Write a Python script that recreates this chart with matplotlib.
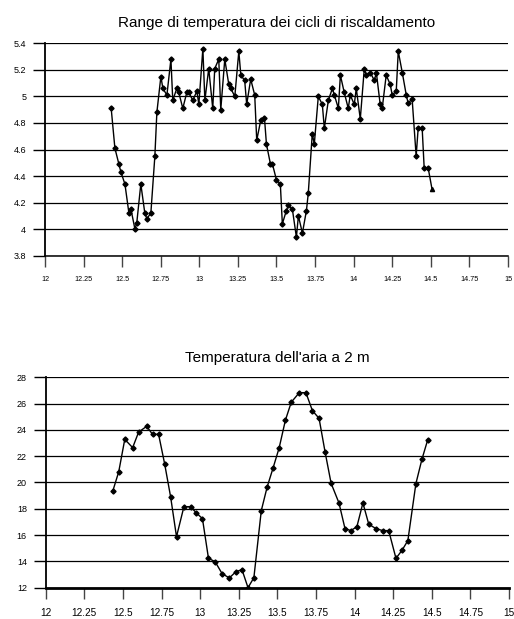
import matplotlib.pyplot as plt

plt.rcParams['font.family'] = ['Liberation Sans', 'DejaVu Sans']

# top chart: range of heating-cycle temperature
giorno_range = [12.429, 12.453, 12.479, 12.492, 12.518, 12.544, 12.557, 12.583, 12.595, 12.621,
                12.647, 12.660, 12.686, 12.712, 12.725, 12.751, 12.764, 12.790, 12.816, 12.828,
                12.854, 12.867, 12.893, 12.919, 12.932, 12.958, 12.984, 12.997, 13.023, 13.036,
                13.061, 13.087, 13.100, 13.126, 13.139, 13.165, 13.191, 13.204, 13.230, 13.256,
                13.269, 13.294, 13.307, 13.333, 13.359, 13.372, 13.398, 13.422, 13.435, 13.461,
                13.474, 13.500, 13.525, 13.538, 13.564, 13.577, 13.603, 13.629, 13.642, 13.668,
                13.694, 13.706, 13.732, 13.745, 13.771, 13.797, 13.810, 13.836, 13.862, 13.875,
                13.901, 13.914, 13.939, 13.965, 13.978, 14.004, 14.017, 14.043, 14.069, 14.082,
                14.108, 14.134, 14.147, 14.172, 14.185, 14.211, 14.237, 14.250, 14.276, 14.289,
                14.315, 14.341, 14.353, 14.379, 14.405, 14.418, 14.444, 14.457, 14.483, 14.508]
range_temp = [4.91, 4.61, 4.49, 4.43, 4.34, 4.12, 4.15, 4.00, 4.05, 4.34,
              4.12, 4.08, 4.12, 4.55, 4.88, 5.15, 5.06, 5.01, 5.28, 4.97,
              5.06, 5.03, 4.91, 5.03, 5.03, 4.97, 5.04, 4.94, 5.36, 4.97,
              5.21, 4.91, 5.21, 5.28, 4.90, 5.28, 5.09, 5.06, 5.00, 5.34,
              5.16, 5.12, 4.94, 5.13, 5.01, 4.67, 4.82, 4.84, 4.64, 4.49,
              4.49, 4.37, 4.34, 4.04, 4.14, 4.18, 4.15, 3.94, 4.10, 3.97,
              4.14, 4.27, 4.72, 4.64, 5.00, 4.94, 4.76, 4.97, 5.06, 5.01,
              4.91, 5.16, 5.03, 4.91, 5.01, 4.94, 5.06, 4.83, 5.21, 5.16,
              5.18, 5.12, 5.18, 4.94, 4.91, 5.16, 5.09, 5.01, 5.04, 5.34,
              5.18, 5.01, 4.95, 4.98, 4.55, 4.76, 4.76, 4.46, 4.46, 4.30]

# bottom chart: air temperature at 2 m
giorno_aria = [12.434, 12.473, 12.512, 12.563, 12.602, 12.654, 12.692, 12.731, 12.770, 12.809,
               12.847, 12.895, 12.938, 12.976, 13.015, 13.054, 13.097, 13.142, 13.189, 13.232,
               13.271, 13.310, 13.348, 13.396, 13.434, 13.473, 13.512, 13.552, 13.590, 13.642,
               13.685, 13.727, 13.770, 13.809, 13.848, 13.899, 13.938, 13.976, 14.015, 14.054,
               14.092, 14.139, 14.182, 14.221, 14.268, 14.307, 14.345, 14.397, 14.436, 14.474]
temp_aria = [19.33, 20.82, 23.28, 22.65, 23.84, 24.27, 23.66, 23.66, 21.43, 18.90,
             15.88, 18.16, 18.16, 17.68, 17.25, 14.23, 13.98, 13.07, 12.74, 13.22,
             13.37, 12.00, 12.76, 17.86, 19.66, 21.13, 22.65, 24.73, 26.10, 26.83,
             26.83, 25.46, 24.88, 22.32, 19.94, 18.44, 16.49, 16.34, 16.64, 18.44,
             16.82, 16.49, 16.34, 16.34, 14.23, 14.84, 15.58, 19.91, 21.76, 23.26]

x_ticks = [12, 12.25, 12.5, 12.75, 13, 13.25, 13.5, 13.75, 14, 14.25, 14.5, 14.75, 15]
x_labels = ['12', '12.25', '12.5', '12.75', '13', '13.25', '13.5', '13.75', '14',
            '14.25', '14.5', '14.75', '15']
y_ticks_range = [3.8, 4, 4.2, 4.4, 4.6, 4.8, 5, 5.2, 5.4]
y_labels_range = ['3.8', '4', '4.2', '4.4', '4.6', '4.8', '5', '5.2', '5.4']
y_ticks_aria = [12, 14, 16, 18, 20, 22, 24, 26, 28]

fig = plt.figure(figsize=(5.14, 6.19), dpi=100)


def style_axes(ax, yticks, ylabels, xfont, xpad, lw_bottom):
    ax.set_xlim(12, 15)
    ax.set_ylim(yticks[0], yticks[-1])
    ax.set_xticks(x_ticks)
    ax.set_xticklabels(x_labels, fontsize=xfont)
    ax.set_yticks(yticks)
    ax.set_yticklabels(ylabels, fontsize=6.5)
    for s in ['top', 'right']:
        ax.spines[s].set_visible(False)
    ax.spines['left'].set_linewidth(1.3)
    ax.spines['bottom'].set_linewidth(lw_bottom)
    ax.tick_params(axis='x', direction='out', length=8, width=1, color='#444444', pad=xpad)
    ax.tick_params(axis='y', direction='out', length=8.5, width=1, pad=5)
    ax.grid(axis='y', color='black', linewidth=0.9)
    ax.set_axisbelow(True)


ax1 = fig.add_axes([0.0875, 0.5869, 0.9008, 0.3431])
ax1.plot(giorno_range[:-1], range_temp[:-1], color='black', linewidth=1,
         marker='D', markersize=2.6)
ax1.plot(giorno_range[-2:], range_temp[-2:], color='black', linewidth=1)
ax1.plot(giorno_range[-1:], range_temp[-1:], color='black', linestyle='none',
         marker='^', markersize=3)
style_axes(ax1, y_ticks_range, y_labels_range, 5.2, 6.5, 1.1)
ax1.set_title('Range di temperatura dei cicli di riscaldamento', fontsize=11, pad=12)

ax2 = fig.add_axes([0.0889, 0.0506, 0.9014, 0.3399])
ax2.plot(giorno_aria, temp_aria, color='black', linewidth=1, marker='D', markersize=2.6)
style_axes(ax2, y_ticks_aria, [str(t) for t in y_ticks_aria], 7.2, 6.5, 2)
ax2.set_title("Temperatura dell'aria a 2 m", fontsize=11, pad=11)

fig.savefig('out.png', dpi=100)
